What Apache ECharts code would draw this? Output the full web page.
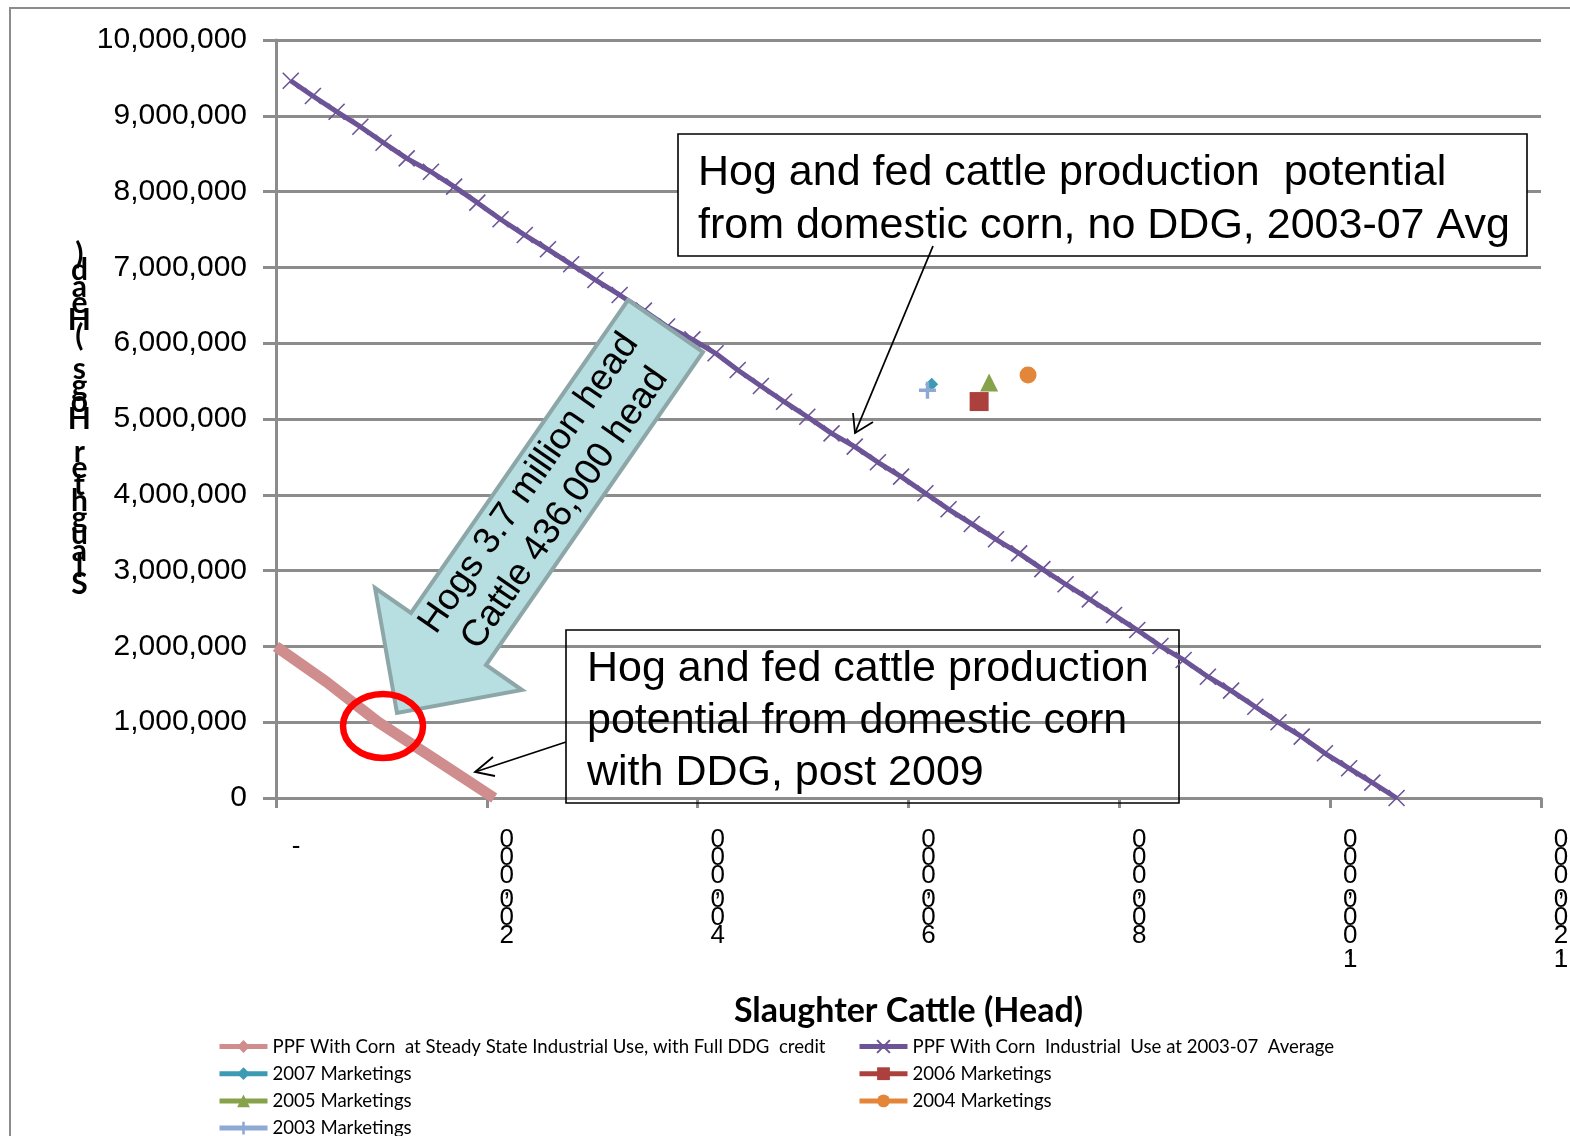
<!DOCTYPE html>
<html>
<head>
<meta charset="utf-8">
<title>Hog and fed cattle production possibilities</title>
<script src="https://cdn.jsdelivr.net/npm/echarts@6/dist/echarts.min.js"></script>
<style>
  html, body { margin: 0; padding: 0; background: #ffffff; }
  #chart { width: 1570px; height: 1136px; }
</style>
</head>
<body>
<div id="chart"></div>
<script>
// ---- data -------------------------------------------------------------
// x axis: slaughter cattle (head); y axis: slaughter hogs (head)
const xTicks = [0, 200000, 400000, 600000, 800000, 1000000, 1200000];
const yTicks = [0, 1000000, 2000000, 3000000, 4000000, 5000000, 6000000, 7000000, 8000000, 9000000, 10000000];

// PPF with corn at steady-state industrial use, full DDG credit
const ppfDdgName = 'PPF With Corn  at Steady State Industrial Use, with Full DDG  credit';
const ppfDdgCattle = [0, 48000, 97000, 150000, 207000];
const ppfDdgHogs = [2000000, 1530000, 1000000, 520000, 0];

// PPF with corn industrial use at the 2003-07 average
const ppfAvgName = 'PPF With Corn  Industrial  Use at 2003-07  Average';
const ppfAvgCattle = [14000, 35000, 57500, 80000, 102000, 124000, 147000, 169000, 191000, 213000,
  236000, 258000, 280000, 303000, 326000, 349000, 371000, 395000, 417000, 438000,
  460000, 482000, 504000, 527000, 549000, 571000, 593000, 616000, 638000, 660000,
  683000, 705000, 727000, 749000, 772000, 795000, 817000, 839000, 861000, 884000,
  906000, 929000, 951000, 973000, 995000, 1018000, 1040000, 1063000];
const ppfAvgHogs = [9463000, 9261000, 9054000, 8856000, 8645000, 8439000, 8262000, 8065000, 7854000, 7635000,
  7427000, 7239000, 7041000, 6834000, 6636000, 6430000, 6220000, 6050000, 5867000, 5646000,
  5435000, 5228000, 5030000, 4811000, 4635000, 4429000, 4239000, 4020000, 3809000, 3615000,
  3413000, 3228000, 3020000, 2820000, 2620000, 2414000, 2216000, 2005000, 1821000, 1600000,
  1416000, 1204000, 999000, 809000, 590000, 392000, 202000, 0];

// actual marketings by year
const marketNames = ['2007 Marketings', '2006 Marketings', '2005 Marketings', '2004 Marketings', '2003 Marketings'];
const marketCattle = [622000, 667000, 676500, 713400, 618000];
const marketHogs = [5460000, 5230000, 5480000, 5580000, 5380000];

// ---- styling ----------------------------------------------------------
const gray = '#8c8c8c';
const marketStyles = [
  { color: '#3d9ab5', symbol: 'diamond', size: 13 },
  { color: '#ab403d', symbol: 'rect', size: 19 },
  { color: '#86a24b', symbol: 'triangle', size: 18 },
  { color: '#e3863a', symbol: 'circle', size: 17 },
  { color: '#8ea9d3', symbol: 'path://M4,0H6V4H10V6H6V10H4V6H0V4H4Z', size: 17 }
];
const crossSymbol = 'path://M0,0L10,10M10,0L0,10';

// vertically stacked tick text (characters run bottom-to-top)
function stackedTick(v) {
  if (v === 0) return '{d|-}';
  return v.toLocaleString('en-US').split('').reverse()
    .map(c => (c === ',' ? '{c|,}' : c)).join('\n');
}
const yTitle = 'Slaughter Hogs (Head)'.split('').reverse().join('\n');

const zip = (xs, ys) => xs.map((x, i) => [x, ys[i]]);

const series = [
  {
    name: ppfDdgName, type: 'line', data: zip(ppfDdgCattle, ppfDdgHogs),
    symbol: 'diamond', showSymbol: false, symbolSize: 12,
    lineStyle: { color: '#cf8d8d', width: 11, cap: 'butt' },
    itemStyle: { color: '#cf8d8d' }, z: 3
  },
  {
    name: ppfAvgName, type: 'line', data: zip(ppfAvgCattle, ppfAvgHogs),
    symbol: crossSymbol, symbolSize: 16, showSymbol: true,
    lineStyle: { color: '#6c5497', width: 5 },
    itemStyle: { color: '#6c5497', borderColor: '#6c5497', borderWidth: 1.6 }, z: 3
  }
];
marketNames.forEach((name, i) => {
  const st = marketStyles[i];
  series.push({
    name, type: 'line', data: [[marketCattle[i], marketHogs[i]]],
    symbol: st.symbol, symbolSize: st.size, showSymbol: true,
    lineStyle: { color: st.color, width: 5 },
    itemStyle: { color: st.color }, z: 4
  });
});

const legendCommon = {
  orient: 'vertical', itemWidth: 48, itemHeight: 16, itemGap: 8.2, padding: 0, height: 200,
  textStyle: { fontFamily: 'Lato', fontSize: 18.6, color: '#000' },
  lineStyle: { width: 5 }, selectedMode: false
};

const option = {
  animation: false,
  backgroundColor: '#ffffff',
  grid: { left: 276, right: 29, top: 40, bottom: 338, containLabel: false, outerBoundsMode: 'none' },
  xAxis: {
    type: 'value', min: xTicks[0], max: xTicks[xTicks.length - 1], interval: xTicks[1] - xTicks[0],
    name: 'Slaughter Cattle (Head)', nameLocation: 'middle', nameGap: 196,
    nameTextStyle: { fontFamily: 'Lato', fontWeight: 'bold', fontSize: 34, color: '#000' },
    axisLine: { show: true, lineStyle: { color: gray, width: 3 } },
    axisTick: { show: true, length: 10, lineStyle: { color: gray, width: 3 } },
    splitLine: { show: false },
    axisLabel: {
      formatter: stackedTick, margin: 33, padding: [0, 0, 0, 40],
      fontFamily: 'Liberation Sans', fontSize: 26, lineHeight: 18, color: '#000',
      verticalAlign: 'top',
      rich: {
        c: { fontFamily: 'Liberation Sans', fontSize: 26, lineHeight: 6, color: '#000' },
        d: { fontFamily: 'Liberation Sans', fontSize: 26, lineHeight: 18, padding: [14, 0, 0, 0], color: '#000' }
      }
    }
  },
  yAxis: {
    type: 'value', min: yTicks[0], max: yTicks[yTicks.length - 1], interval: yTicks[1] - yTicks[0],
    name: yTitle, nameLocation: 'middle', nameRotate: 0, nameGap: 194,
    nameTextStyle: { fontFamily: 'Lato', fontWeight: 'bold', fontSize: 30, lineHeight: 16.5, color: '#000', align: 'center', verticalAlign: 'middle' },
    axisLine: { show: true, lineStyle: { color: gray, width: 3 } },
    axisTick: { show: true, length: 13, lineStyle: { color: gray, width: 3 } },
    splitLine: { show: true, lineStyle: { color: gray, width: 3 } },
    axisLabel: {
      formatter: v => v.toLocaleString('en-US'), margin: 29,
      fontFamily: 'Liberation Sans', fontSize: 30, color: '#000'
    }
  },
  legend: [
    Object.assign({ left: 217, top: 1037, data: [ppfDdgName, marketNames[0], marketNames[2], marketNames[4]] }, legendCommon),
    Object.assign({ left: 857, top: 1037, data: [ppfAvgName, marketNames[1], marketNames[3]] }, legendCommon)
  ],
  series,
  graphic: [
    // chart frame
    { type: 'rect', z: -10, silent: true, shape: { x: 10, y: 8, width: 1620, height: 1200 },
      style: { fill: 'none', stroke: '#8c8c8c', lineWidth: 2 } },
    // callout: average-use frontier
    { type: 'rect', z: 20, shape: { x: 678, y: 134, width: 849, height: 122 },
      style: { fill: '#ffffff', stroke: '#000', lineWidth: 1.6 } },
    { type: 'text', z: 21, x: 698, y: 147,
      style: { text: 'Hog and fed cattle production  potential\nfrom domestic corn, no DDG, 2003-07 Avg',
        fontFamily: 'Liberation Sans', fontSize: 43, lineHeight: 53, fill: '#000', verticalAlign: 'top' } },
    { type: 'polyline', z: 21, shape: { points: [[933, 246], [855, 433]] }, style: { stroke: '#000', lineWidth: 1.8, fill: 'none' } },
    { type: 'polyline', z: 21, shape: { points: [[853, 413], [855, 433], [873, 422]] }, style: { stroke: '#000', lineWidth: 1.8, fill: 'none' } },
    // callout: DDG frontier
    { type: 'rect', z: 1, shape: { x: 566, y: 630, width: 613, height: 173 },
      style: { fill: 'none', stroke: '#000', lineWidth: 1.6 } },
    { type: 'text', z: 1, x: 587, y: 643,
      style: { text: 'Hog and fed cattle production\npotential from domestic corn\nwith DDG, post 2009',
        fontFamily: 'Liberation Sans', fontSize: 43, lineHeight: 52, fill: '#000', verticalAlign: 'top' } },
    { type: 'polyline', z: 21, shape: { points: [[566, 742], [475, 772]] }, style: { stroke: '#000', lineWidth: 1.8, fill: 'none' } },
    { type: 'polyline', z: 21, shape: { points: [[493, 757], [475, 772], [495, 776]] }, style: { stroke: '#000', lineWidth: 1.8, fill: 'none' } },
    // shift arrow
    { type: 'polygon', z: 15,
      shape: { points: [[628, 300], [703, 352], [486, 665], [522, 690], [397, 713], [375, 588], [411, 613]] },
      style: { fill: '#b7dee1', stroke: '#8da7a8', lineWidth: 4, lineJoin: 'miter' } },
    { type: 'text', z: 16, x: 547, y: 496, rotation: 0.963,
      style: { text: 'Hogs 3.7 million head\nCattle 436,000 head', align: 'center', verticalAlign: 'middle',
        fontFamily: 'Liberation Sans', fontSize: 37, lineHeight: 44, fill: '#000' } },
    // highlighted point
    { type: 'ellipse', z: 16, shape: { cx: 383, cy: 726, rx: 40, ry: 32 },
      style: { fill: 'none', stroke: '#ff0000', lineWidth: 6.5 } }
  ]
};

const chart = echarts.init(document.getElementById('chart'), null, { renderer: 'canvas' });
chart.setOption(option);
</script>
</body>
</html>
